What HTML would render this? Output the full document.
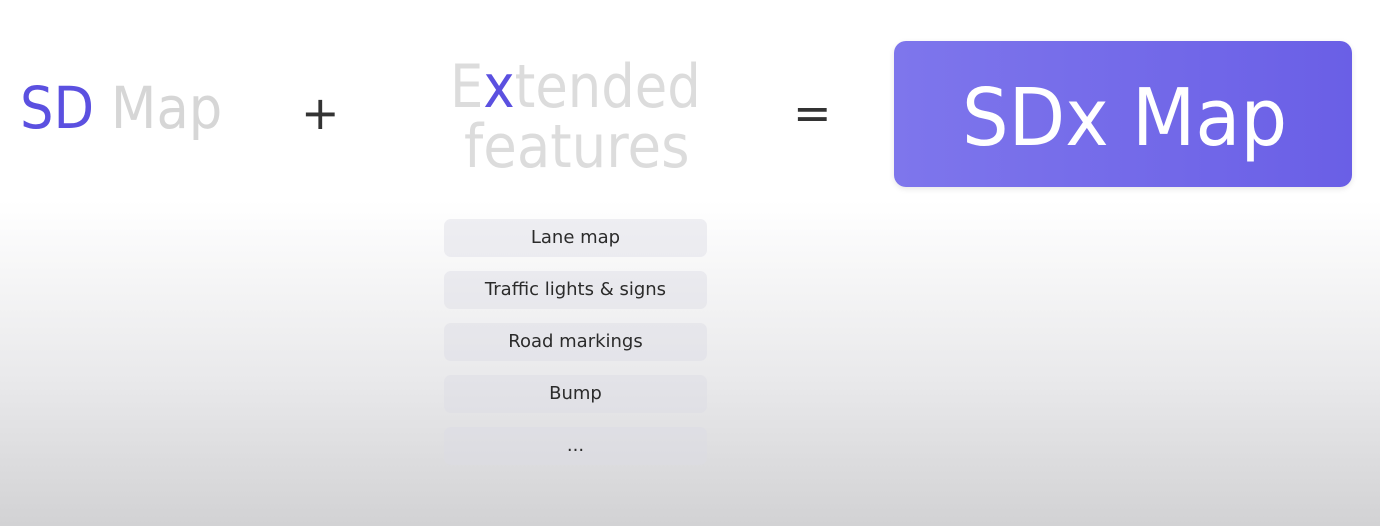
<!DOCTYPE html>
<html><head><style>
body{margin:0;width:1380px;height:526px;overflow:hidden;font-family:"DejaVu Sans","Liberation Sans",sans-serif;
background:linear-gradient(to bottom,#fff 0px,#fff 200px,#e9e9eb 380px,#d2d2d4 526px);position:relative}
.t{position:absolute;white-space:nowrap;line-height:1;transform-origin:0 0}
.box{position:absolute;left:444px;width:263px;height:38px;border-radius:7px;background:rgba(220,220,228,0.45);
font-size:18px;color:#2b2b2b;text-align:center;line-height:38px}
</style></head><body>
<div class="t" style="left:20px;top:79px;font-size:58px;color:#d6d6d6;transform:scaleX(0.91)"><span style="color:#5b50e0">SD</span> Map</div>
<div class="t" style="left:301px;top:90px;font-size:46px;color:#333">+</div>
<div class="t" style="left:450px;top:57px;font-size:60px;color:#dcdcdc;transform:scaleX(0.88)">E<span style="color:#5b50e0">x</span>tended</div>
<div class="t" style="left:464px;top:117px;font-size:60px;color:#dcdcdc;transform:scaleX(0.91)">features</div>
<div class="t" style="left:793px;top:90px;font-size:46px;color:#333">=</div>
<div style="position:absolute;left:894px;top:41px;width:458px;height:146px;border-radius:12px;background:linear-gradient(90deg,#7e76ec,#6a5fe6);box-shadow:0 2px 6px rgba(0,0,0,.1)"></div>
<div class="t" style="left:962px;top:79px;font-size:79px;color:#fff;font-weight:500;transform:scaleX(0.93)">SDx Map</div>
<div class="box" style="top:219px">Lane map</div>
<div class="box" style="top:271px">Traffic lights &amp; signs</div>
<div class="box" style="top:323px">Road markings</div>
<div class="box" style="top:375px">Bump</div>
<div class="box" style="top:427px">...</div>
</body></html>
